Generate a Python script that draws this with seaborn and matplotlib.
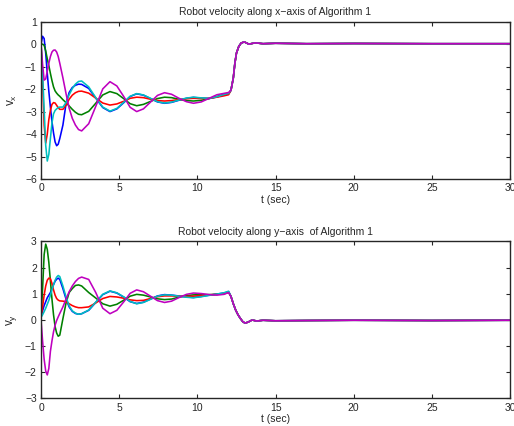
import pandas as pd
import matplotlib.pyplot as plt
import seaborn as sns

# time grid used for the oscillating part (0 .. 12 s)
t_osc = [0.0, 0.1, 0.2, 0.3, 0.4, 0.5, 0.6, 0.7, 0.8, 0.9, 1.0, 1.1, 1.2, 1.4, 1.6, 1.8, 2.0, 2.2, 2.4, 2.6,
         3.05, 3.5, 3.95, 4.41, 4.85, 5.3, 5.7, 6.12, 6.55, 7.0, 7.45, 7.9, 8.35, 8.8, 9.3, 9.75,
         10.25, 10.75, 11.25, 11.7, 12.0]

# === velocity along x ===
vx_b = [0.0, 0.35, 0.25, -0.4, -1.3, -2.1, -2.8, -3.45, -3.95, -4.35, -4.52, -4.45, -4.2, -3.6, -2.65, -2.15, -1.93, -1.83, -1.78, -1.79,
        -1.97, -2.40, -2.82, -3.0, -2.88, -2.6, -2.33, -2.21, -2.27, -2.42, -2.57, -2.63, -2.59, -2.5, -2.41, -2.37, -2.4, -2.42, -2.35, -2.25, -2.2]
vx_g = [0.0, 0.0, -0.05, -0.3, -0.65, -0.95, -1.3, -1.62, -1.9, -2.08, -2.18, -2.26, -2.32, -2.47, -2.6, -2.75, -2.9, -3.03, -3.12, -3.14,
        -2.99, -2.63, -2.26, -2.11, -2.2, -2.43, -2.65, -2.74, -2.68, -2.55, -2.42, -2.36, -2.38, -2.45, -2.51, -2.53, -2.5, -2.42, -2.33, -2.24, -2.2]
vx_r = [0.0, -1.6, -3.6, -4.4, -4.0, -3.35, -2.95, -2.68, -2.6, -2.62, -2.72, -2.83, -2.9, -2.9, -2.72, -2.45, -2.27, -2.16, -2.1, -2.09,
        -2.18, -2.4, -2.62, -2.71, -2.66, -2.54, -2.41, -2.36, -2.38, -2.45, -2.51, -2.53, -2.51, -2.47, -2.43, -2.41, -2.42, -2.41, -2.36, -2.3, -2.25]
vx_c = [0.0, -1.3, -2.9, -4.5, -5.2, -4.9, -4.2, -3.5, -3.1, -2.95, -2.88, -2.82, -2.8, -2.8, -2.6, -2.25, -1.98, -1.78, -1.66, -1.64,
        -1.9, -2.38, -2.8, -2.98, -2.86, -2.58, -2.32, -2.2, -2.26, -2.41, -2.56, -2.62, -2.58, -2.49, -2.4, -2.36, -2.39, -2.41, -2.34, -2.24, -2.19]
vx_m = [0.0, -0.9, -1.6, -1.55, -1.2, -0.85, -0.55, -0.35, -0.27, -0.26, -0.35, -0.55, -0.85, -1.5, -2.2, -2.85, -3.3, -3.6, -3.8, -3.86,
        -3.54, -2.77, -1.99, -1.67, -1.86, -2.34, -2.81, -3.0, -2.88, -2.58, -2.28, -2.16, -2.23, -2.4, -2.56, -2.63, -2.57, -2.41, -2.25, -2.19, -2.15]
# all robots switch together after ~12 s
t_tail_x = [12.15, 12.3, 12.4, 12.5, 12.65, 12.8, 13.0, 13.3, 13.7, 14.2, 15.0, 17.0, 20.0, 25.0, 30.0]
vx_tail = [-2.05, -1.5, -0.85, -0.4, -0.1, 0.05, 0.1, 0.0, 0.06, 0.02, 0.04, 0.02, 0.03, 0.02, 0.02]

# === velocity along y ===
vy_b = [0.1, 0.35, 0.55, 0.7, 0.85, 0.95, 1.05, 1.2, 1.35, 1.48, 1.56, 1.6, 1.55, 1.2, 0.8, 0.5, 0.33, 0.25, 0.22, 0.24,
        0.37, 0.67, 0.97, 1.1, 1.03, 0.87, 0.7, 0.63, 0.68, 0.8, 0.92, 0.97, 0.95, 0.92, 0.88, 0.86, 0.9, 0.95, 0.99, 1.03, 1.08]
vy_g = [0.1, 1.2, 2.5, 2.9, 2.7, 2.2, 1.5, 0.8, 0.2, -0.25, -0.5, -0.62, -0.58, 0.05, 0.65, 1.05, 1.2, 1.32, 1.34, 1.3,
        1.05, 0.84, 0.62, 0.53, 0.6, 0.76, 0.91, 0.98, 0.95, 0.88, 0.81, 0.78, 0.8, 0.87, 0.93, 0.96, 0.97, 0.97, 0.98, 1.0, 1.06]
vy_r = [0.1, 0.5, 0.95, 1.3, 1.52, 1.6, 1.58, 1.4, 1.15, 0.95, 0.82, 0.76, 0.73, 0.72, 0.7, 0.62, 0.55, 0.5, 0.47, 0.47,
        0.5, 0.65, 0.82, 0.9, 0.88, 0.83, 0.77, 0.74, 0.75, 0.82, 0.89, 0.92, 0.92, 0.91, 0.9, 0.91, 0.94, 0.96, 0.98, 1.01, 1.06]
vy_c = [0.1, 0.2, 0.32, 0.45, 0.6, 0.75, 0.95, 1.15, 1.35, 1.52, 1.64, 1.7, 1.66, 1.3, 0.88, 0.54, 0.35, 0.26, 0.22, 0.24,
        0.38, 0.68, 0.98, 1.11, 1.04, 0.88, 0.71, 0.62, 0.67, 0.79, 0.91, 0.96, 0.95, 0.91, 0.87, 0.85, 0.89, 0.94, 0.99, 1.04, 1.1]
vy_m = [0.0, -0.8, -1.5, -1.95, -2.1, -1.85, -1.2, -0.8, -0.45, -0.2, -0.02, 0.12, 0.25, 0.5, 0.8, 1.08, 1.3, 1.47, 1.59, 1.64,
        1.55, 1.05, 0.45, 0.24, 0.37, 0.7, 1.02, 1.15, 1.08, 0.91, 0.74, 0.67, 0.72, 0.85, 0.98, 1.03, 1.01, 0.97, 0.95, 0.98, 1.05]
t_tail_y = [12.15, 12.3, 12.45, 12.6, 12.75, 12.9, 13.05, 13.25, 13.5, 13.8, 14.2, 15.0, 17.0, 20.0, 25.0, 30.0]
vy_tail = [0.9, 0.62, 0.38, 0.2, 0.06, -0.06, -0.12, -0.08, 0.0, -0.04, -0.01, -0.03, -0.02, -0.01, -0.02, -0.01]

robots = ["b", "g", "r", "c", "m"]
colors = {"b": (0, 0, 1), "g": (0, 0.5, 0), "r": (1, 0, 0), "c": (0, 0.75, 0.75), "m": (0.75, 0, 0.75)}


def build(series, t_tail, v_tail):
    parts = []
    for name, vals in zip(robots, series):
        parts.append(pd.DataFrame({"t": t_osc + t_tail, "v": vals + v_tail, "robot": name}))
    return pd.concat(parts, ignore_index=True)


df_x = build([vx_b, vx_g, vx_r, vx_c, vx_m], t_tail_x, vx_tail)
df_y = build([vy_b, vy_g, vy_r, vy_c, vy_m], t_tail_y, vy_tail)

sns.set_style("ticks")
plt.rcParams['font.family'] = ['Liberation Sans', 'DejaVu Sans']

fig = plt.figure(figsize=(5.14, 4.26), dpi=100)
ax1 = fig.add_axes([0.0798, 0.5798, 0.9125, 0.3693])
ax2 = fig.add_axes([0.0798, 0.0646, 0.9125, 0.3685])

panels = [
    (ax1, df_x, (-6, 1), "Robot velocity along x\u2212axis of Algorithm 1", r"$\mathregular{v_x}$"),
    (ax2, df_y, (-3, 3), "Robot velocity along y\u2212axis  of Algorithm 1", r"$\mathregular{v_y}$"),
]

for ax, df, ylim, title, ylab in panels:
    sns.lineplot(data=df, x="t", y="v", hue="robot", hue_order=robots, palette=colors,
                 estimator=None, legend=False, linewidth=1.15, ax=ax)
    ax.set_xlim(0, 30)
    ax.set_ylim(*ylim)
    ax.set_xticks(range(0, 31, 5))
    ax.set_yticks(range(ylim[0], ylim[1] + 1))
    ax.tick_params(direction="in", top=True, right=True, length=3, width=0.8, labelsize=7.5, pad=3)
    for s in ax.spines.values():
        s.set_linewidth(1.0)
        s.set_visible(True)
    ax.set_title(title, fontsize=7.5, pad=5)
    ax.set_xlabel("t (sec)", fontsize=7.5, labelpad=1)
    ax.set_ylabel(ylab, fontsize=8.5, labelpad=4)

fig.savefig("out.png", dpi=100)
